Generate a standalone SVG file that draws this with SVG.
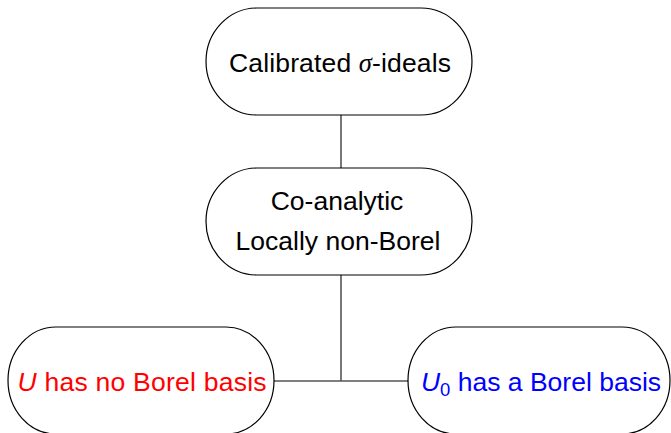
<svg xmlns="http://www.w3.org/2000/svg" width="671" height="433" viewBox="0 0 671 433">
<style>
.node{fill:#fff;stroke:#000;stroke-width:1.2}
.edge{stroke:#555;stroke-width:1.6;fill:none}
text{font-family:"Liberation Sans",Arial,sans-serif;font-size:26.5px;text-anchor:middle}
.red{fill:#ff0000}
.blue{fill:#0000ff}
</style>
<rect width="671" height="433" fill="#fff"/>
<g id="connectors">
<line class="edge" x1="341" y1="115" x2="341" y2="168"/>
<line class="edge" x1="341" y1="275" x2="341" y2="381"/>
<line class="edge" x1="274" y1="381" x2="408" y2="381"/>
</g>
<g id="n1">
<path class="node" d="M257,8 H421 A51,53.5 0 0 1 421,115 H257 A51,53.5 0 0 1 257,8 Z"/>
<text x="340" y="72" textLength="222">Calibrated <tspan font-family="Liberation Serif,serif" font-style="italic">σ</tspan>-ideals</text>
</g>
<g id="n2">
<path class="node" d="M257,168 H421 A51,53.5 0 0 1 421,275 H257 A51,53.5 0 0 1 257,168 Z"/>
<text x="337" y="210">Co-analytic</text>
<text x="338" y="250">Locally non-Borel</text>
</g>
<g id="n3">
<path class="node" d="M56,327 H226 A48,53.5 0 0 1 226,434 H56 A48,53.5 0 0 1 56,327 Z"/>
<text class="red" x="142" y="391" textLength="249"><tspan font-style="italic">U</tspan> has no Borel basis</text>
</g>
<g id="n4">
<path class="node" d="M456,327 H622 A48,53.5 0 0 1 622,434 H456 A48,53.5 0 0 1 456,327 Z"/>
<text class="blue" x="541" y="391"><tspan font-style="italic">U</tspan><tspan font-size="18.5" dy="5">0</tspan><tspan dy="-5"> has a Borel basis</tspan></text>
</g>
</svg>
